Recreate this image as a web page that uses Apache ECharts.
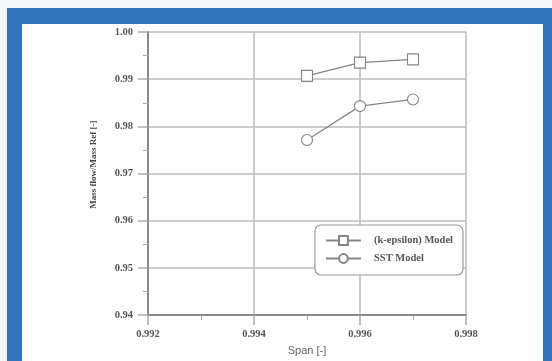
<!DOCTYPE html>
<html>
<head>
<meta charset="utf-8">
<script src="https://cdn.jsdelivr.net/npm/echarts@6/dist/echarts.min.js"></script>
<style>
  html, body { margin: 0; padding: 0; width: 552px; height: 361px; overflow: hidden; background: #f4f7fa; }
  #frame { position: absolute; left: 7px; top: 8px; width: 545px; height: 353px; background: #3176bd; }
  #inner { position: absolute; left: 22px; top: 24px; width: 521px; height: 337px; background: #ffffff; }
  #chart { position: absolute; left: 0; top: 0; width: 552px; height: 361px; }
</style>
</head>
<body>
<div id="frame"></div>
<div id="inner"></div>
<div id="chart"></div>
<script>
const spanValues = [0.995, 0.996, 0.997];
const kEpsilonValues = [0.9907, 0.9935, 0.9942];
const sstValues = [0.9771, 0.9843, 0.9857];
const seriesNames = ['(k-epsilon) Model', 'SST Model'];
const xAxisName = 'Span [-]';
const yAxisName = 'Mass flow/Mass Ref [-]';

const serif = '"Liberation Serif", "DejaVu Serif", serif';
const lineColor = '#858585';

const chart = echarts.init(document.getElementById('chart'), null, { renderer: 'canvas' });
chart.setOption({
  backgroundColor: 'transparent',
  animation: false,
  grid: { left: 148, top: 32, right: 86, bottom: 38, containLabel: false },
  legend: {
    show: true,
    orient: 'vertical',
    right: 89,
    top: 225,
    data: seriesNames,
    itemWidth: 35,
    itemHeight: 11,
    itemGap: 7,
    padding: [10, 10, 11, 10],
    backgroundColor: '#ffffff',
    borderColor: '#9a9a9a',
    borderWidth: 1.2,
    borderRadius: 6,
    textStyle: { fontFamily: serif, fontWeight: 'bold', fontSize: 10.5, color: '#555', padding: [0, 0, 0, 8] }
  },
  xAxis: {
    type: 'value',
    min: 0.992,
    max: 0.998,
    interval: 0.002,
    name: xAxisName,
    nameLocation: 'middle',
    nameGap: 24,
    nameTextStyle: { fontFamily: '"Liberation Sans", Arial, sans-serif', fontSize: 11, color: '#666' },
    axisLine: { show: true, onZero: false, lineStyle: { color: '#8a8a8a', width: 2 } },
    axisTick: { show: true, inside: false, length: 10, lineStyle: { color: '#aaa', width: 1.5 } },
    minorTick: { show: true, splitNumber: 2, length: 5, lineStyle: { color: '#aaa', width: 1 } },
    splitLine: { show: true, lineStyle: { color: '#bdbdbd', width: 1.5 } },
    axisLabel: {
      margin: 14,
      fontFamily: serif, fontWeight: 'bold', fontSize: 10.5, color: '#555',
      formatter: v => v.toFixed(3)
    }
  },
  yAxis: {
    type: 'value',
    min: 0.94,
    max: 1.00,
    interval: 0.01,
    name: yAxisName,
    nameLocation: 'middle',
    nameGap: 50,
    nameRotate: 90,
    nameTextStyle: { fontFamily: serif, fontWeight: 'bold', fontSize: 9, color: '#444', padding: [0, 0, 0, 18] },
    axisLine: { show: true, onZero: false, lineStyle: { color: '#8a8a8a', width: 2 } },
    axisTick: { show: true, inside: false, length: 10, lineStyle: { color: '#aaa', width: 1.5 } },
    minorTick: { show: true, splitNumber: 2, length: 5, lineStyle: { color: '#aaa', width: 1 } },
    splitLine: { show: true, lineStyle: { color: '#bdbdbd', width: 1.5 } },
    axisLabel: {
      margin: 15,
      fontFamily: serif, fontWeight: 'bold', fontSize: 10.5, color: '#555',
      formatter: v => v.toFixed(2)
    }
  },
  series: [
    {
      name: seriesNames[0],
      type: 'line',
      data: spanValues.map((x, i) => [x, kEpsilonValues[i]]),
      symbol: 'rect',
      symbolSize: 11,
      showAllSymbol: true,
      lineStyle: { color: lineColor, width: 1.3 },
      itemStyle: { color: '#ffffff', borderColor: lineColor, borderWidth: 1.1 }
    },
    {
      name: seriesNames[1],
      type: 'line',
      data: spanValues.map((x, i) => [x, sstValues[i]]),
      symbol: 'circle',
      symbolSize: 11,
      showAllSymbol: true,
      lineStyle: { color: lineColor, width: 1.3 },
      itemStyle: { color: '#ffffff', borderColor: lineColor, borderWidth: 1.1 }
    }
  ]
});
</script>
</body>
</html>
